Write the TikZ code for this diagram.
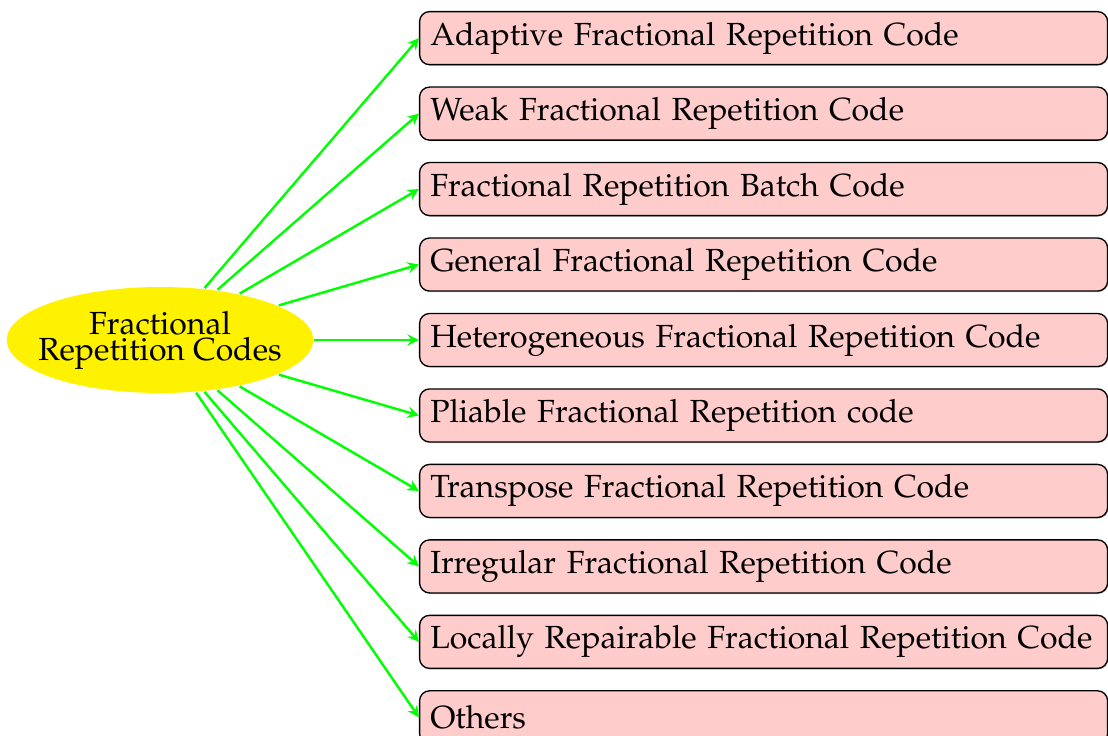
\documentclass[tikz,border=0pt]{standalone}
\usepackage[T1]{fontenc}
\usepackage{mathpazo}
\usetikzlibrary{%
  arrows,%
  shapes,% wg. ellipse
  shadows,%
  positioning%
}
\begin{document}
\begin{tikzpicture}
[font=\large, line width=0.9pt, >=stealth,
rootnode/.style={ellipse, fill=yellow, inner xsep=-5pt, inner ysep=3pt, minimum width=114pt, minimum height=39.75pt, align=center},
codebox/.style={rectangle, rounded corners=3.75pt, draw=black, line width=0.5pt, fill=red!20,
  drop shadow={shadow xshift=0.3pt, shadow yshift=-0.4pt, opacity=0.5},
  anchor=west, minimum height=19.9pt, text width=250pt, inner xsep=4pt, align=left},
link/.style={->, draw=green}
]

\def \boxx {97.1pt}
\def \rowsep {28.3pt}

\useasboundingbox (-60pt,-148.5pt) rectangle (355.5pt,127.5pt);

\node[rootnode] (frc) at (0,0) {Fractional\\[-4.25pt]Repetition Codes};

% Code families, top to bottom
\foreach \lbl [count=\i from 0] in {Adaptive Fractional Repetition Code,
    Weak Fractional Repetition Code,
    Fractional Repetition Batch Code,
    General Fractional Repetition Code,
    Heterogeneous Fractional Repetition Code,
    Pliable Fractional Repetition code,
    Transpose Fractional Repetition Code,
    Irregular Fractional Repetition Code,
    Locally Repairable Fractional Repetition Code,
    Others} {
  \node[codebox] (code\i) at (\boxx, {(4-\i)*\rowsep}) {\lbl};
  \draw[link] (frc) -- (code\i.west);
}
\end{tikzpicture}
\end{document}
